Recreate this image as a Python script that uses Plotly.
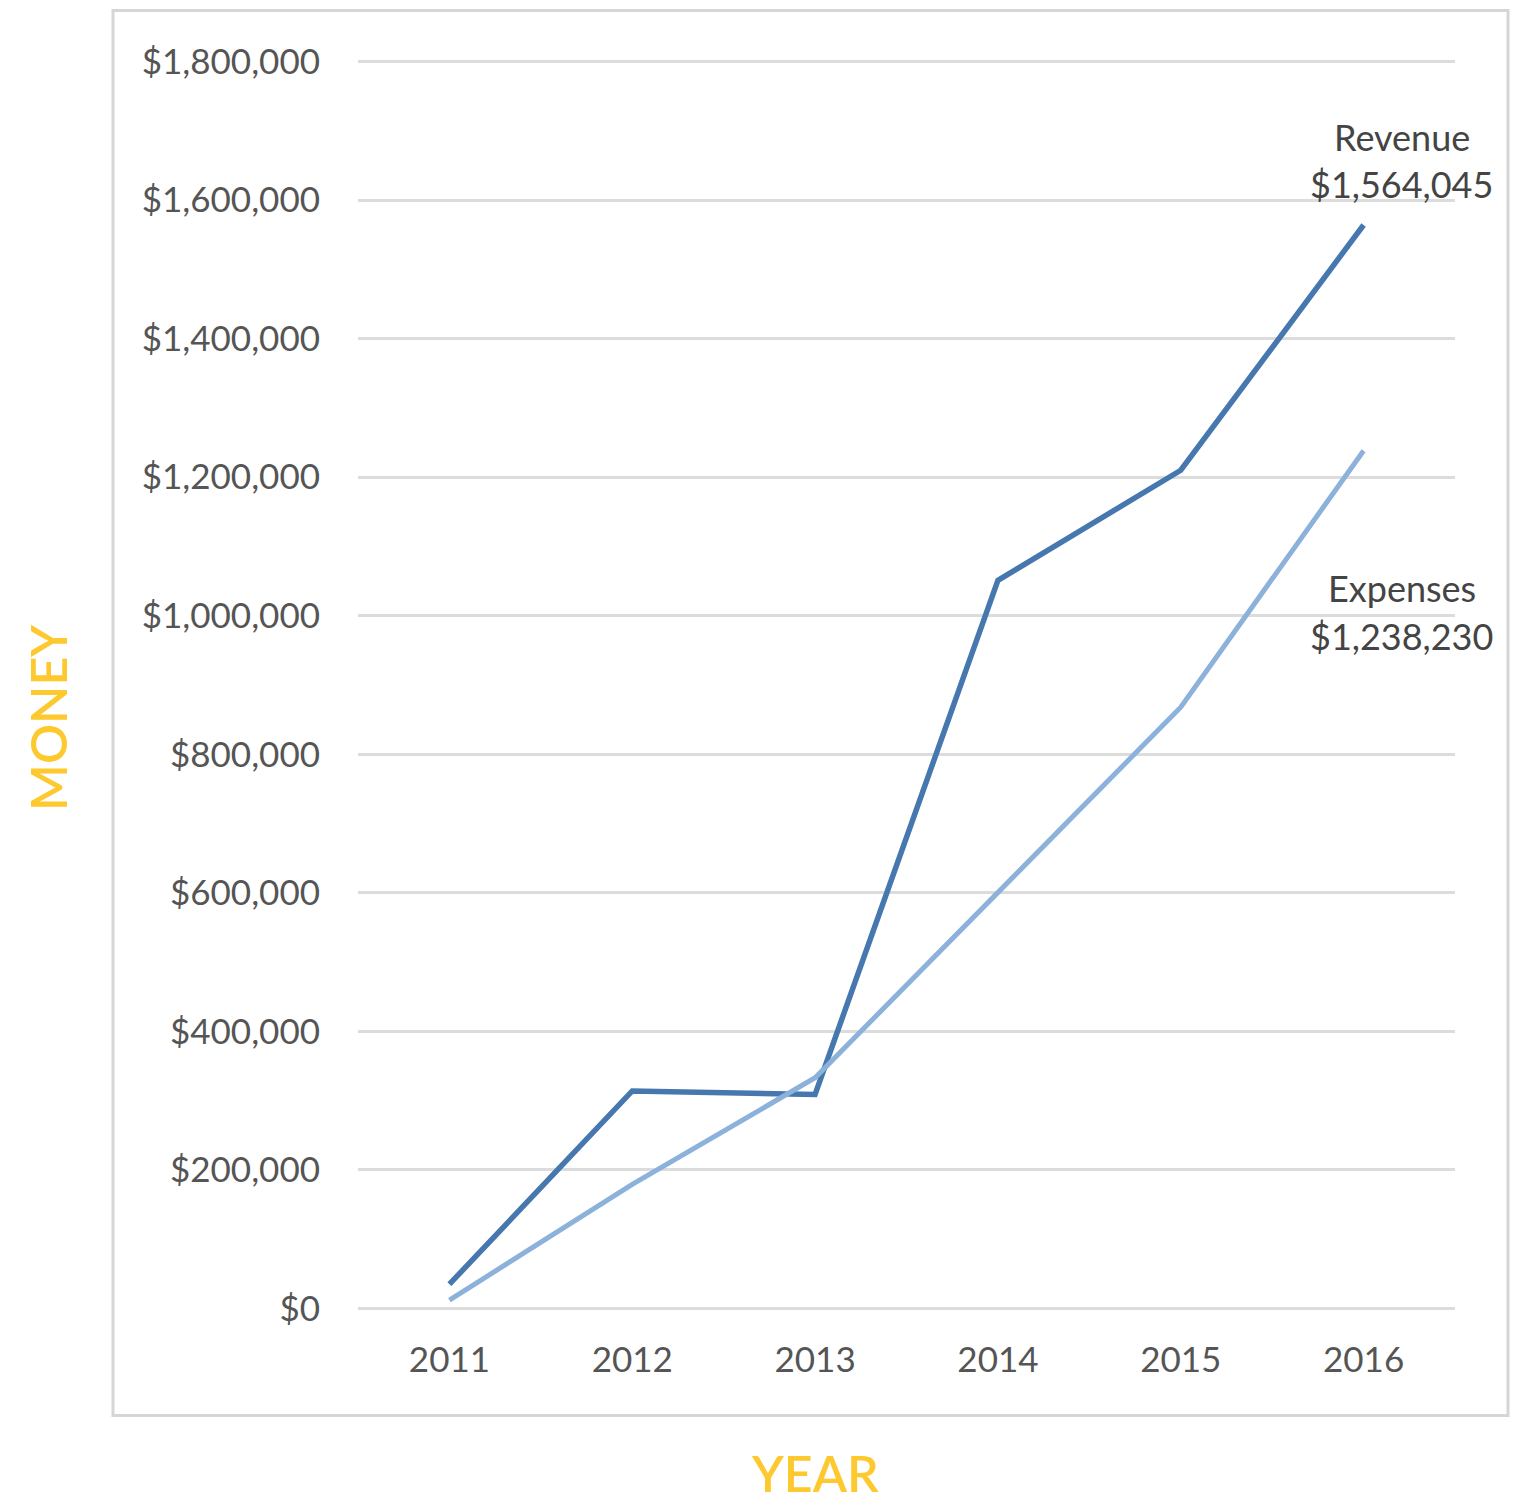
import plotly.graph_objects as go

years = [2011, 2012, 2013, 2014, 2015, 2016]
revenue = [35000, 314000, 309000, 1051000, 1210000, 1564045]
expenses = [12000, 179000, 333000, 600000, 868000, 1238230]
y_ticks = [0, 200000, 400000, 600000, 800000, 1000000, 1200000, 1400000, 1600000, 1800000]
y_labels = ["$0", "$200,000", "$400,000", "$600,000", "$800,000", "$1,000,000",
            "$1,200,000", "$1,400,000", "$1,600,000", "$1,800,000"]

REV_COLOR = "#4677af"
EXP_COLOR = "#8cb1db"
YELLOW = "#FDC92F"
TEXT = "#555555"
FONT = "Lato"

# plot area (page pixels) -> paper coordinates helpers
L, R, T, B = 358, 1455, 55.5, 1314.5
def px(x):
    return (x - L) / (R - L)
def py(y):
    return (B - y) / (B - T)

fig = go.Figure()
fig.add_trace(go.Scatter(x=years, y=revenue, mode="lines", name="Revenue",
                         line=dict(color=REV_COLOR, width=5.5), hoverinfo="skip"))
fig.add_trace(go.Scatter(x=years, y=expenses, mode="lines", name="Expenses",
                         line=dict(color=EXP_COLOR, width=5), hoverinfo="skip"))

fig.update_layout(
    width=1510, height=1498,
    margin=dict(l=350, r=63, t=47.5, b=191.5, pad=0),
    paper_bgcolor="white", plot_bgcolor="white",
    showlegend=False,
    font=dict(family=FONT, size=35, color=TEXT),
)
fig.update_xaxes(range=[2010.5, 2016.5], tickvals=years, ticktext=[str(y) for y in years],
                 showgrid=False, zeroline=False, showline=False, ticks="",
                 tickfont=dict(family=FONT, size=35, color=TEXT), ticklabelstandoff=22)
fig.update_yaxes(range=[-8000, 1808000], tickvals=y_ticks, ticktext=y_labels,
                 showgrid=True, gridcolor="#dcdcdc", gridwidth=2.5,
                 zeroline=False, showline=False, ticks="",
                 tickfont=dict(family=FONT, size=35, color=TEXT), ticklabelstandoff=37)

# outer frame
fig.add_shape(type="rect", xref="paper", yref="paper",
              x0=px(113), x1=px(1508), y0=py(1416), y1=py(10),
              line=dict(color="#d6d6d6", width=3), fillcolor="rgba(0,0,0,0)", layer="below")

# end labels
ann_font = dict(family=FONT, size=36, color="#444444")
fig.add_annotation(x=years[-1], y=revenue[-1], text="Revenue", showarrow=False,
                   xshift=38, yshift=88, font=ann_font)
fig.add_annotation(x=years[-1], y=revenue[-1], text="$1,564,045", showarrow=False,
                   xshift=38, yshift=41, font=ann_font)
fig.add_annotation(x=years[-1], y=expenses[-1], text="Expenses", showarrow=False,
                   xshift=38, yshift=-137, font=ann_font)
fig.add_annotation(x=years[-1], y=expenses[-1], text="$1,238,230", showarrow=False,
                   xshift=38, yshift=-185, font=ann_font)

# axis titles
title_font = dict(family=FONT, size=50, color=YELLOW, weight=600)
fig.add_annotation(xref="paper", yref="paper", x=px(48), y=py(718), text="MONEY",
                   xanchor="center", yanchor="middle",
                   textangle=-90, showarrow=False, font=title_font)
fig.add_annotation(xref="paper", yref="paper", x=px(815), y=py(1474), text="YEAR",
                   xanchor="center", yanchor="middle",
                   showarrow=False, font=title_font)

fig.write_html("out.html")
